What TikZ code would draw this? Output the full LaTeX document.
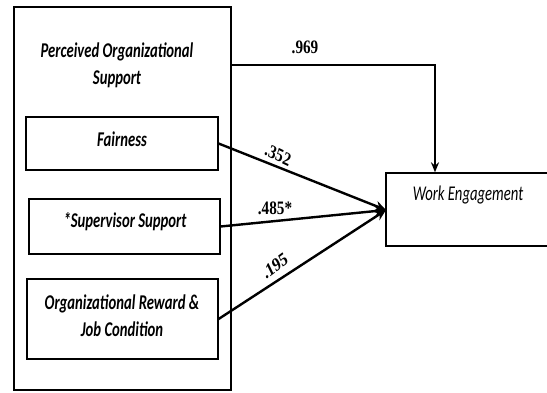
\documentclass[tikz,border=0pt]{standalone}
\usepackage{fontspec}
\setmainfont{Liberation Serif}
\newfontfamily\boxfont{Carlito}
\usetikzlibrary{arrows.meta}
\begin{document}
\begin{tikzpicture}[x=1pt,y=-1pt,
  frame/.style={draw,line width=1.4pt},
  inner/.style={draw,line width=1.2pt},
  lbl/.style={font=\boxfont\bfseries\itshape\fontsize{21}{27}\selectfont,align=center,
    transform shape,xscale=0.7,inner sep=0pt},
  path/.style={line width=2.4pt,-{Stealth[length=11pt,width=10pt]}},
  coef/.style={font=\bfseries\fontsize{19}{20}\selectfont,inner sep=0pt,
    transform shape,xscale=0.8}]
\useasboundingbox (0,0) rectangle (547,392);
% outer construct box and its three dimensions
\draw[frame] (14,7) rectangle (231,390);
\node[lbl] (pos) at (117,65) {Perceived Organizational\\Support};
\node[inner,minimum width=192pt,minimum height=53pt] (fair) at (122,143.5) {};
\node[lbl] at (122,139) {Fairness};
\node[inner,minimum width=191pt,minimum height=55pt] (sup) at (124.5,226.5) {};
\node[lbl] at (125,222) {*Supervisor Support};
\node[inner,minimum width=191pt,minimum height=80pt] (org) at (122.5,319) {};
\node[lbl] at (122,316) {Organizational Reward \&\\Job Condition};
% outcome box
\node[draw,line width=1.4pt,minimum width=180pt,minimum height=73pt] (we) at (476,209.5) {};
\node[font=\boxfont\itshape\fontsize{21}{27}\selectfont,inner sep=0pt,
  transform shape,xscale=0.7] at (468,195) {Work Engagement};
\coordinate (hit) at (386,210);
\coordinate (pos out) at (231,65);
\coordinate (bend) at (435,65);
% structural paths
\draw[line width=2.2pt,-{Stealth[length=10pt,width=8pt]}] (pos out) -- (bend) -- (we.north -| bend);
\draw[path] (fair.east) -- (hit);
\draw[path] (sup.east) -- (hit);
\draw[path] (org.east) -- (hit);
% path coefficients
\node[coef] at (305,47) {.969};
\node[coef,rotate=-21] at (278,155) {.352};
\node[coef] at (275,208) {.485*};
\node[coef,rotate=31] at (275,266) {.195};
\end{tikzpicture}
\end{document}
